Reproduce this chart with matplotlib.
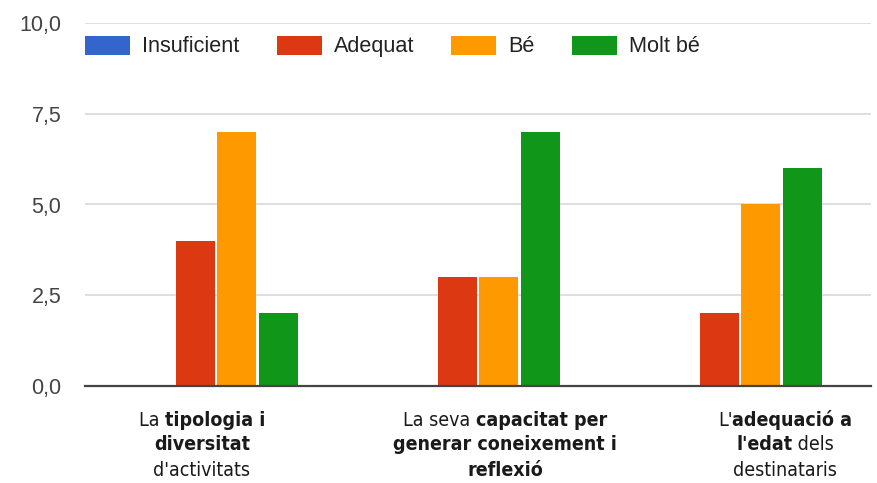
import numpy as np
import matplotlib
matplotlib.use('Agg')
from matplotlib import pyplot as plt
from matplotlib import transforms
from matplotlib.patches import Patch

# data
series = ['Insuficient', 'Adequat', 'Bé', 'Molt bé']
colors = ['#3366cc', '#dc3912', '#ff9900', '#109618']
values = [
    [0, 0, 0],   # Insuficient
    [4, 3, 2],   # Adequat
    [7, 3, 5],   # Bé
    [2, 7, 6],   # Molt bé
]
yticks = [0, 2.5, 5, 7.5, 10]
ytick_labels = ['0,0', '2,5', '5,0', '7,5', '10,0']
# category labels, each line split into (text, bold) pieces
cat_labels = [
    [[('La ', False), ('tipologia i', True)],
     [('diversitat', True)],
     [("d'activitats", False)]],
    [[('La seva ', False), ('capacitat per', True)],
     [('generar coneixement i', True)],
     [('reflexió', True)]],
    [[("L'", False), ('adequació a', True)],
     [("l'edat", True), (' dels', False)],
     [('destinataris', False)]],
]

W, H = 877, 483
fig = plt.figure(figsize=(W / 100, H / 100), dpi=100)
ax = fig.add_axes([85 / W, 1 - 386 / H, 786 / W, 363 / H])

x = np.arange(len(cat_labels))
bw = 0.149
step = 0.159
for i, (name, vals) in enumerate(zip(series, values)):
    ax.bar(x + (i - 1.5) * step, vals, width=bw, color=colors[i], zorder=3)

ax.set_xlim(-0.5, len(cat_labels) - 0.5)
ax.set_ylim(0, 10)
ax.set_yticks(yticks)
ax.set_yticklabels(ytick_labels, family='Liberation Sans', fontsize=15.5, color='#444444')
ax.tick_params(axis='y', length=0, pad=17)
ax.set_xticks([])
ax.grid(axis='y', color='#d9d9d9', linewidth=1.2, zorder=0)
for s in ['top', 'right', 'left']:
    ax.spines[s].set_visible(False)
ax.spines['bottom'].set_color('#444444')
ax.spines['bottom'].set_linewidth(1.6)
ax.spines['bottom'].set_zorder(4)

handles = [Patch(facecolor=c, edgecolor='none') for c in colors]
fig.legend(handles, series, loc='center left', bbox_to_anchor=(85 / W, 1 - 46.5 / H),
           ncol=4, frameon=False, prop={'family': 'Liberation Sans', 'size': 15.6},
           handlelength=2.08, handleheight=0.97, handletextpad=0.55, columnspacing=1.72,
           borderpad=0, borderaxespad=0, labelcolor='#222222')

# mixed-weight category labels
lab_font = dict(family='DejaVu Sans', fontstretch='condensed', fontsize=14, color='#1a1a1a')
renderer = fig.canvas.get_renderer()


def text_width(s, bold):
    w = 'bold' if bold else 'normal'
    t1 = fig.text(0, 0, 'X' + s + 'X', fontweight=w, **lab_font)
    t2 = fig.text(0, 0, 'XX', fontweight=w, **lab_font)
    width = t1.get_window_extent(renderer).width - t2.get_window_extent(renderer).width
    t1.remove()
    t2.remove()
    return width


# labels are not quite centred under their groups in the original
label_shift = [-14, 27, 45]
line_y = [420, 445, 470]
for xi, shift, lines in zip(x, label_shift, cat_labels):
    for li, segs in enumerate(lines):
        widths = [text_width(s, b) for s, b in segs]
        pos = shift - sum(widths) / 2
        for (s, b), w in zip(segs, widths):
            tr = transforms.offset_copy(ax.get_xaxis_transform(), fig=fig,
                                        x=pos, y=-(line_y[li] - 386), units='dots')
            ax.text(xi, 0, s, transform=tr, ha='left', va='center',
                    fontweight='bold' if b else 'normal', **lab_font)
            pos += w

fig.savefig('out.png', dpi=100)
